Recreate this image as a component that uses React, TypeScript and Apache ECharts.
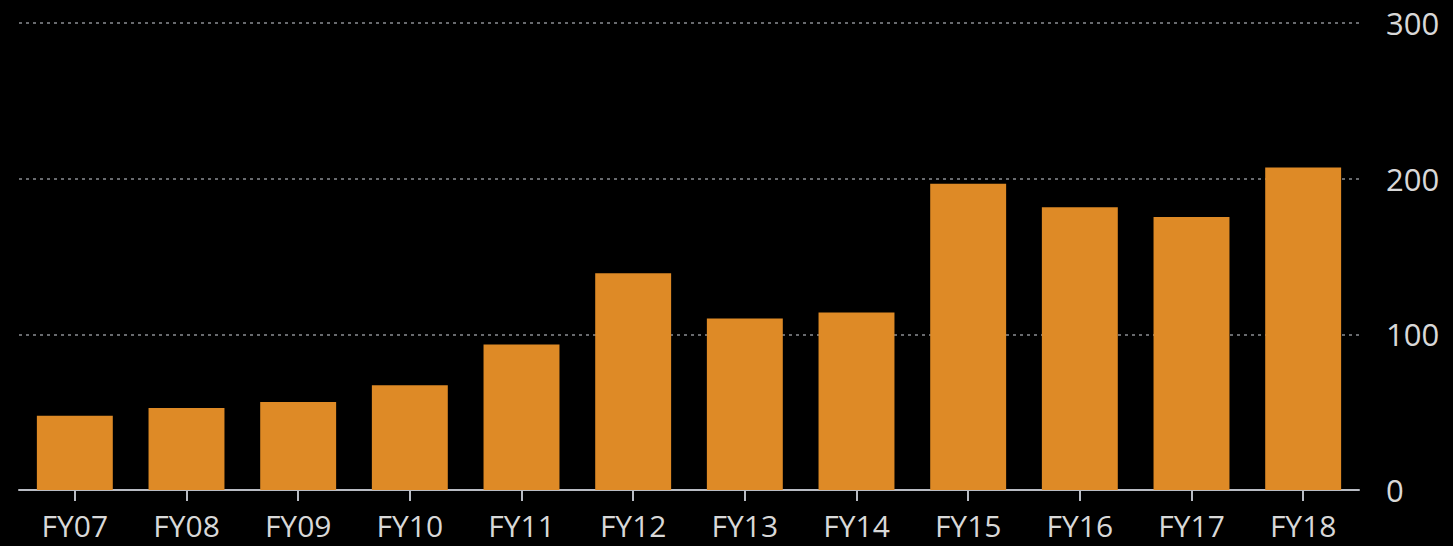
import React, { useEffect, useRef } from "react";
import * as echarts from "echarts";

const categories = ["FY07", "FY08", "FY09", "FY10", "FY11", "FY12", "FY13", "FY14", "FY15", "FY16", "FY17", "FY18"];
const values = [47.7, 52.7, 56.6, 67.3, 93.5, 139.2, 110.1, 114.0, 196.8, 181.7, 175.3, 207.1];
const yTicks = [0, 100, 200, 300];

export default function App() {
  const ref = useRef<HTMLDivElement>(null);
  useEffect(() => {
    document.body.style.margin = "0";
    document.body.style.background = "#000000";
    if (!ref.current) return;
    const chart = echarts.init(ref.current, undefined, { renderer: "svg" });
    chart.setOption({
      animation: false,
      backgroundColor: "#000000",
      grid: { left: 19, right: 94, top: 23, bottom: 56, containLabel: false },
      xAxis: {
        type: "category",
        data: categories,
        axisLine: { show: true, lineStyle: { color: "#b9bcc4", width: 2 } },
        axisTick: { show: true, alignWithLabel: true, length: 11, lineStyle: { color: "#b9bcc4", width: 2 } },
        axisLabel: {
          color: "#d8d8d8",
          fontFamily: "Open Sans",
          fontSize: 30,
          margin: 20,
          interval: 0,
        },
      },
      yAxis: {
        type: "value",
        position: "right",
        min: yTicks[0],
        max: yTicks[yTicks.length - 1],
        interval: 100,
        axisLine: { show: false },
        axisTick: { show: false },
        axisLabel: {
          color: "#d8d8d8",
          fontFamily: "Open Sans",
          fontSize: 31,
          margin: 27,
          align: "left",
        },
        splitLine: { show: true, lineStyle: { color: "#8a8d93", width: 1.5, type: [3, 4] } },
      },
      series: [
        {
          type: "bar",
          data: values,
          barWidth: "68%",
          itemStyle: { color: "#DE8A26" },
        },
      ],
    });
    return () => chart.dispose();
  }, []);
  return <div ref={ref} style={{ width: 1453, height: 546 }} />;
}
